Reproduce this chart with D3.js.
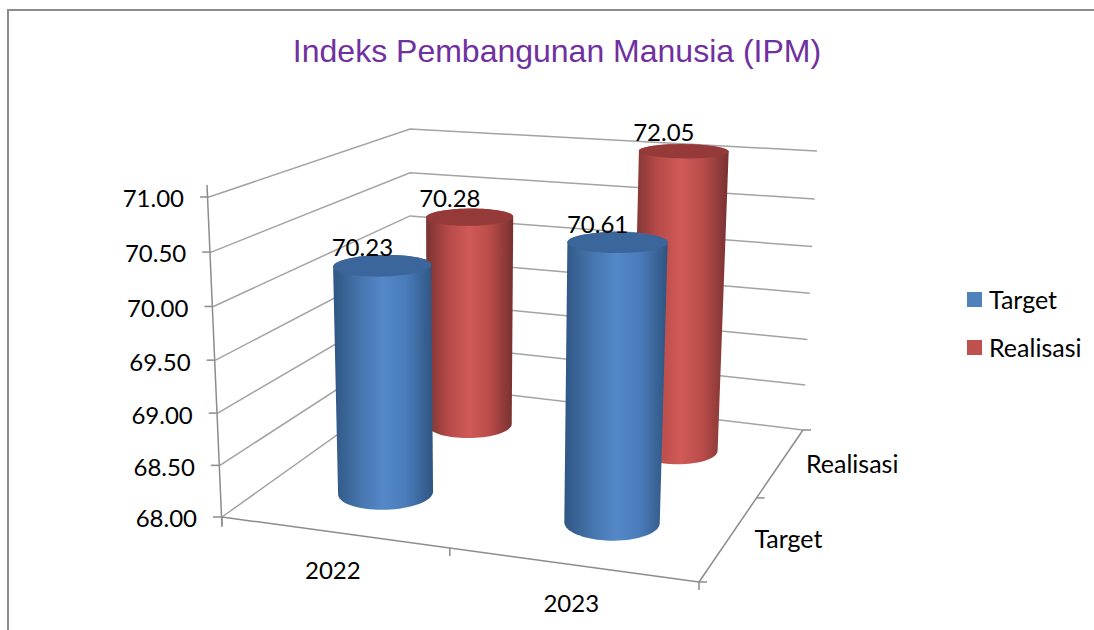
<!DOCTYPE html>
<html><head><meta charset="utf-8">
<script src="https://cdn.jsdelivr.net/npm/d3@7"></script>
<style>html,body{margin:0;padding:0;background:#fff}svg{display:block}text{font-family:Lato,"Noto Sans",sans-serif;fill:#000}</style>
</head><body><svg id="c" width="1094" height="630"></svg>
<script>
const chartTitle = "Indeks Pembangunan Manusia (IPM)";
const years = ["2022","2023"];
const seriesNames = ["Target","Realisasi"];
const targetValues = [70.23,70.61];
const realisasiValues = [70.28,72.05];
const valueTicks = [68,68.5,69,69.5,70,70.5,71];
const seriesColors = {
  Target:   {legend:"#4f81bd",cap:"#3b669b",stops:["#2f5684","#4675ad","#5588c9","#4a7cbb","#2f5480"]},
  Realisasi:{legend:"#c0504d",cap:"#953a39",stops:["#7a3331","#b84b49","#d05a57","#b94c4a","#763130"]}
};

const W=1094,H=630,svg=d3.select("#c");
// Cabinet of the 3D plot as seen on screen
const floorQuad=[[222,517],[699,582],[803,430],[410,383]];
const topQuad=[[209,197],[712,230],[817,151],[410,129]];
function quadMap(q){
  const [[x0,y0],[x1,y1],[x2,y2],[x3,y3]]=q;
  const dx1=x1-x2,dx2=x3-x2,sx=x0-x1+x2-x3,dy1=y1-y2,dy2=y3-y2,sy=y0-y1+y2-y3;
  const d=dx1*dy2-dx2*dy1,g=(sx*dy2-dx2*sy)/d,h=(dx1*sy-sx*dy1)/d;
  const a=x1-x0+g*x1,b=x3-x0+h*x3,e=y1-y0+g*y1,f=y3-y0+h*y3;
  return (u,v)=>{const w=g*u+h*v+1;return [(a*u+b*v+x0)/w,(e*u+f*v+y0)/w];};
}
const F=quadMap(floorQuad),T=quadMap(topQuad);
const valT=d3.scaleLinear().domain([68,71]).range([0,1]);
const barCeiling=71.1; // bars are cut off just past the axis maximum
const persp=1.04;
function P(x,z,val){
  const t=valT(val),g=t/(persp+(1-persp)*t);
  const a=F(x,z),b=T(x,z);
  return [a[0]+(b[0]-a[0])*g,a[1]+(b[1]-a[1])*g];
}
const xS=d3.scaleBand().domain(years).range([0,1]);
const zS=d3.scaleBand().domain(seriesNames).range([0,1]);
const grid="#a3a3a3",axisC="#8c8c8c";
const seg=(a,b,c,w)=>svg.append("line").attr("x1",a[0]).attr("y1",a[1]).attr("x2",b[0]).attr("y2",b[1]).attr("stroke",c).attr("stroke-width",w);

// outer frame
svg.append("path").attr("d",`M${W},10H8V${H}`).attr("fill","none").attr("stroke","#8c8c8c").attr("stroke-width",2);

// title
svg.append("text").attr("x",557).attr("y",62).attr("text-anchor","middle")
  .style("font-family","'Liberation Sans',Arial,sans-serif").style("font-size","32px").style("fill","#7030a0").text(chartTitle);

// wall gridlines
valueTicks.forEach(v=>{
  const l=d3.line();
  svg.append("path").attr("d",l([P(0,0,v),P(0,1,v),P(1,1,v)])).attr("fill","none").attr("stroke",grid).attr("stroke-width",1.5);
});
// vertical axis
{
  const a=P(0,0,71),b=P(0,0,68);
  seg([a[0]-2,a[1]-12],[b[0],b[1]+10],axisC,1.5);
}
// floor edges
seg(P(0,0,68),P(1,0,68),axisC,1.5);
seg(P(1,0,68),P(1,1,68),axisC,1.5);
// value ticks + labels
const fmt=d3.format(".2f");
valueTicks.forEach(v=>{
  const p=P(0,0,v);
  seg([p[0]-9,p[1]],p,axisC,1.5);
  svg.append("text").attr("x",p[0]-25).attr("y",p[1]+2).attr("dy","0.35em").attr("text-anchor","end").style("font-size","24px").text(fmt(v));
});
// category ticks + labels
[0,0.49,1].forEach(u=>{const p=P(u,0,68);seg(p,[p[0],p[1]+8],axisC,1.5);});
[0,0.5,1].forEach(u=>{const p=P(1,u,68);seg(p,[p[0]+8,p[1]],axisC,1.5);});
years.forEach(y=>{
  const p=P(xS(y)+xS.bandwidth()/2,0,68);
  svg.append("text").attr("x",p[0]-4).attr("y",p[1]+38).attr("dy","0.35em").attr("text-anchor","middle").style("font-size","24px").text(y);
});
seriesNames.forEach(s=>{
  const p=P(1,zS(s)+zS.bandwidth()/2,68);
  svg.append("text").attr("x",p[0]+25).attr("y",p[1]+2).attr("dy","0.35em").style("font-size","25px").text(s);
});

// bars
const defs=svg.append("defs");
const rows=[
  {s:"Realisasi",vals:realisasiValues},
  {s:"Target",vals:targetValues}
];
const rx=0.098,rz=0.105,angles=d3.range(0,2*Math.PI,Math.PI/36);
const labels=[];
rows.forEach(r=>{
  const col=seriesColors[r.s];
  const gid="grad"+r.s;
  const gr=defs.append("linearGradient").attr("id",gid).attr("x1",0).attr("x2",1).attr("y1",0).attr("y2",0);
  [0,.27,.5,.73,1].forEach((o,i)=>gr.append("stop").attr("offset",o).attr("stop-color",col.stops[i]));
  r.vals.forEach((val,i)=>{
    const shown=Math.min(val,barCeiling);
    const cx=xS(years[i])+xS.bandwidth()/2, cz=zS(r.s)+zS.bandwidth()/2;
    const ring=v=>angles.map(a=>P(cx+rx*Math.cos(a),cz+rz*Math.sin(a),v));
    const base=ring(68),top=ring(shown);
    const hull=d3.polygonHull(base.concat(top));
    svg.append("path").attr("d","M"+hull.join("L")+"Z").attr("fill",`url(#${gid})`);
    svg.append("path").attr("d","M"+top.join("L")+"Z").attr("fill",col.cap);
    const c=P(cx,cz,shown);
    labels.push({t:fmt(val),x:c[0],y:c[1]});
  });
});
labels.forEach(l=>{
  svg.append("text").attr("x",l.x-20).attr("y",l.y-18).attr("dy","0.35em").attr("text-anchor","middle").style("font-size","24px").text(l.t);
});

// legend
seriesNames.forEach((s,i)=>{
  const y=292+48*i;
  svg.append("rect").attr("x",967).attr("y",y).attr("width",15).attr("height",15).attr("fill",seriesColors[s].legend);
  svg.append("text").attr("x",989).attr("y",y+8).attr("dy","0.35em").style("font-size","25px").text(s);
});
</script></body></html>
